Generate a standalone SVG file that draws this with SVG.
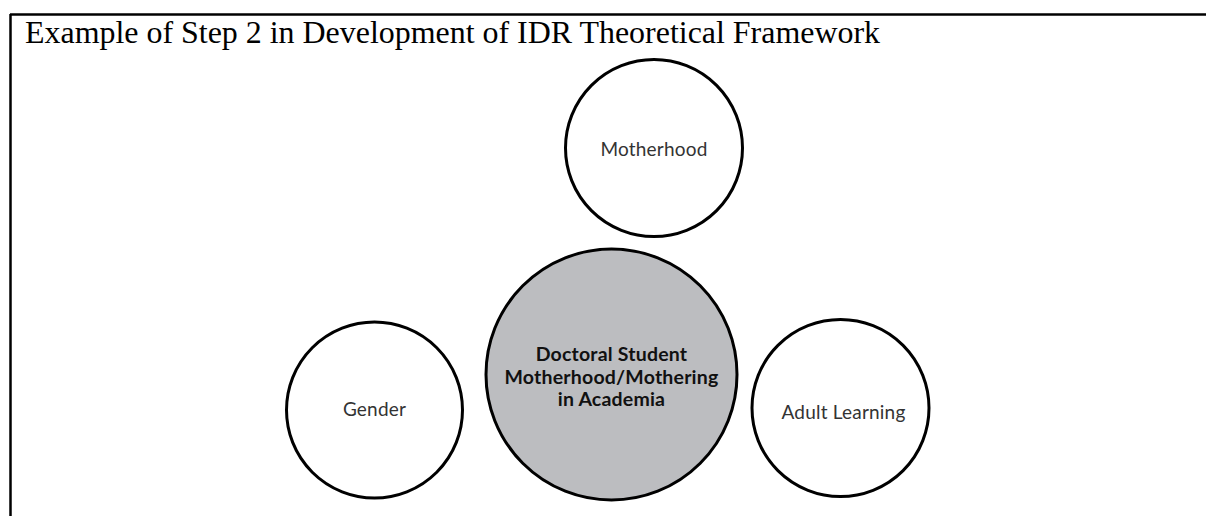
<svg xmlns="http://www.w3.org/2000/svg" width="1206" height="516" viewBox="0 0 1206 516">
<style>
.frame{stroke:#000;stroke-width:2.5;fill:none}
.ring{stroke:#000;stroke-width:3;fill:#fff}
.core{stroke:#000;stroke-width:3;fill:#bcbdc0}
.lbl{font-family:Lato,"Noto Sans",sans-serif;font-size:19px;letter-spacing:0.2px;fill:#333;text-anchor:middle}
.blbl{font-family:Lato,"Noto Sans",sans-serif;font-size:19.5px;font-weight:bold;letter-spacing:0.2px;fill:#111;text-anchor:middle}
.title{font-family:"Liberation Serif","Times New Roman",serif;font-size:32px;fill:#000}
</style>
<rect width="1206" height="516" fill="#fff"/>
<g id="frame">
<line class="frame" x1="10" y1="14.5" x2="1206" y2="14.5"/>
<line class="frame" x1="10.5" y1="14" x2="10.5" y2="516"/>
</g>
<text class="title" x="25" y="43" textLength="855" lengthAdjust="spacingAndGlyphs">Example of Step 2 in Development of IDR Theoretical Framework</text>
<g id="connectors"></g>
<g id="motherhood">
<circle class="ring" cx="654" cy="148" r="88.5"/>
<text class="lbl" x="654" y="156">Motherhood</text>
</g>
<g id="gender">
<circle class="ring" cx="374.5" cy="410" r="88"/>
<text class="lbl" x="374.5" y="416">Gender</text>
</g>
<g id="adult-learning">
<circle class="ring" cx="840.5" cy="408" r="88.5"/>
<text class="lbl" x="843.5" y="419">Adult Learning</text>
</g>
<g id="core">
<circle class="core" cx="611.5" cy="374.5" r="125.5"/>
<text class="blbl" x="611.5" y="361">Doctoral Student</text>
<text class="blbl" x="611.5" y="384">Motherhood/Mothering</text>
<text class="blbl" x="611.5" y="406">in Academia</text>
</g>
</svg>
